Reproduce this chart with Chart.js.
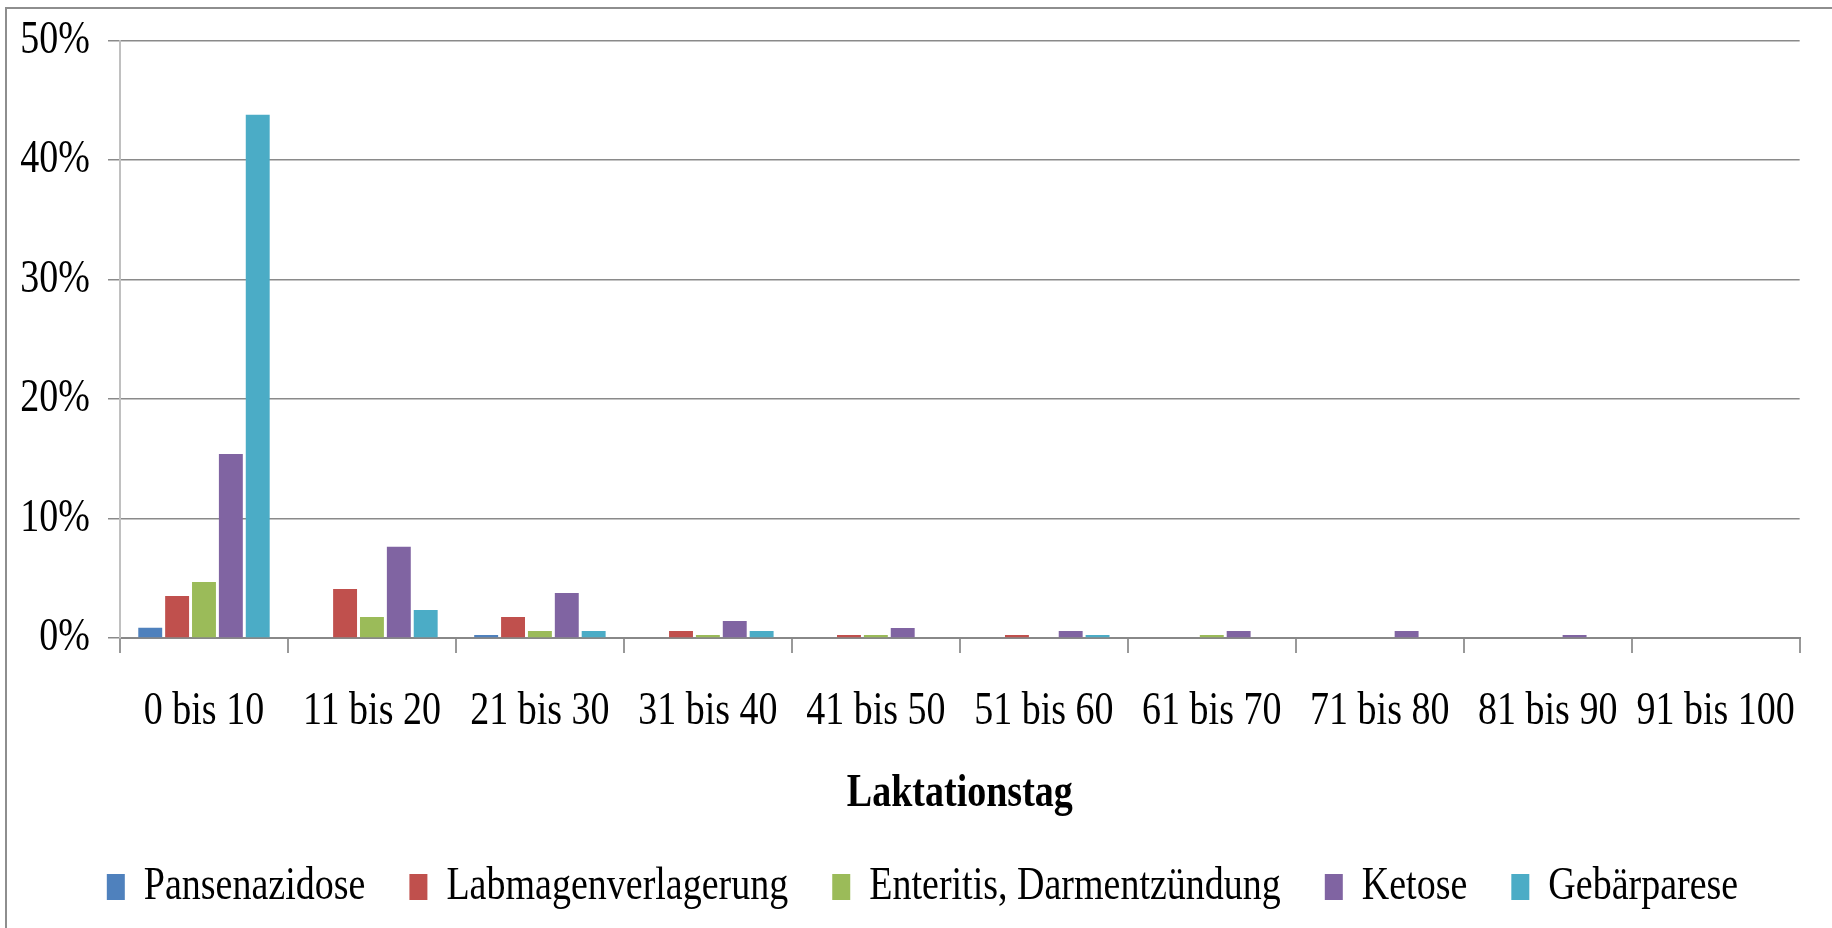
<!DOCTYPE html>
<html>
<head>
<meta charset="utf-8">
<script src="https://cdn.jsdelivr.net/npm/chart.js@4"></script>
<style>
  html, body { margin: 0; padding: 0; background: #fff; }
  #wrap { position: relative; width: 1832px; height: 928px; overflow: hidden; }
  #frame { position: absolute; left: 5px; top: 7px; width: 2000px; height: 1000px;
           border-left: 2px solid #8e8e8e; border-top: 2px solid #8e8e8e; pointer-events: none; }
  canvas { position: absolute; left: 0; top: 0; }
</style>
</head>
<body>
<div id="wrap">
  <canvas id="chart" width="1832" height="928"></canvas>
  <div id="frame"></div>
</div>
<script>
// Laktationstag-Klassen
const categories = ['0 bis 10', '11 bis 20', '21 bis 30', '31 bis 40', '41 bis 50',
                    '51 bis 60', '61 bis 70', '71 bis 80', '81 bis 90', '91 bis 100'];

// Anteile in Prozent
const pansenazidose     = [0.86, 0, 0.25, 0, 0, 0, 0, 0, 0, 0];
const labmagen          = [3.52, 4.1, 1.76, 0.59, 0.25, 0.25, 0, 0, 0, 0];
const enteritis         = [4.69, 1.76, 0.59, 0.25, 0.25, 0, 0.25, 0, 0, 0];
const ketose            = [15.4, 7.63, 3.77, 1.43, 0.84, 0.59, 0.59, 0.59, 0.25, 0];
const gebaerparese      = [43.8, 2.35, 0.59, 0.59, 0, 0.25, 0, 0, 0, 0];

const yTicks = [0, 10, 20, 30, 40, 50];

const serif = "'Liberation Serif', 'Times New Roman', serif";

// the original text is narrow and tall, so stretch glyphs vertically a bit;
// also nudge the legend row, chart.js centres it with a trailing gap
const tallText = {
  id: 'tallText',
  afterLayout(chart) {
    chart.legend.left += 18;
    chart.legend.right += 18;
  },
  beforeDraw(chart) {
    const ctx = chart.ctx;
    if (ctx._tall) return;
    const orig = ctx.fillText.bind(ctx);
    ctx.fillText = function (txt, x, y, maxW) {
      ctx.save();
      ctx.translate(x, y);
      ctx.scale(1, 1.2);
      if (maxW === undefined) orig(txt, 0, 0); else orig(txt, 0, 0, maxW);
      ctx.restore();
    };
    ctx._tall = true;
  }
};

const mkSet = (label, data, color) => ({
  label: label,
  data: data,
  backgroundColor: color,
  borderWidth: 0,
  categoryPercentage: 0.8,
  barPercentage: 0.89
});

new Chart(document.getElementById('chart'), {
  type: 'bar',
  data: {
    labels: categories,
    datasets: [
      mkSet('Pansenazidose', pansenazidose, '#4F81BD'),
      mkSet('Labmagenverlagerung', labmagen, '#C0504D'),
      mkSet('Enteritis, Darmentzündung', enteritis, '#9BBB59'),
      mkSet('Ketose', ketose, '#8064A2'),
      mkSet('Gebärparese', gebaerparese, '#4BACC6')
    ]
  },
  plugins: [tallText],
  options: {
    responsive: false,
    animation: false,
    layout: { padding: { left: 0, top: 39, right: 23, bottom: 12 } },
    plugins: {
      tooltip: { enabled: false },
      legend: {
        position: 'bottom',
        labels: {
          font: { family: serif, size: 38 },
          color: '#000',
          boxWidth: 18,
          boxHeight: 26,
          padding: 44
        }
      }
    },
    scales: {
      x: {
        grid: {
          drawOnChartArea: false,
          drawTicks: true,
          tickLength: 15,
          tickColor: '#999',
          lineWidth: 2
        },
        border: { color: '#888', width: 2 },
        ticks: {
          font: { family: serif, size: 38 },
          color: '#000',
          padding: 36,
          maxRotation: 0,
          autoSkip: false
        },
        title: {
          display: true,
          text: 'Laktationstag',
          font: { family: serif, size: 38, weight: 'bold' },
          color: '#000',
          padding: { top: 20, bottom: 7 }
        },
        afterFit: (s) => { s.height = 186; }
      },
      y: {
        min: 0,
        max: 50,
        afterBuildTicks: (s) => { s.ticks = yTicks.map(v => ({ value: v })); },
        grid: {
          color: '#8a8a8a',
          lineWidth: 1.5,
          tickLength: 12,
          tickColor: '#8a8a8a'
        },
        border: { color: '#c0c0c0', width: 2 },
        ticks: {
          font: { family: serif, size: 38 },
          color: '#000',
          padding: 18,
          callback: (v) => v + '%'
        },
        afterFit: (s) => { s.width = 120; }
      }
    }
  }
});
</script>
</body>
</html>
